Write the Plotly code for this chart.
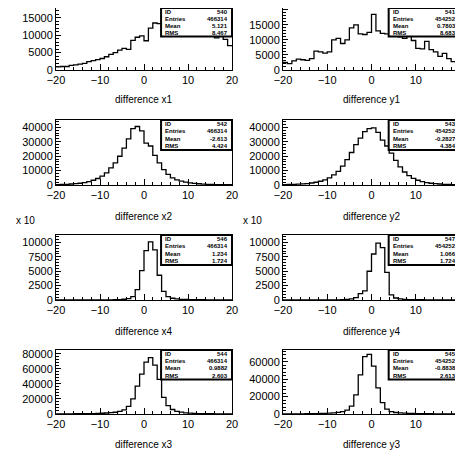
import plotly.graph_objects as go

W, H = 463, 464
OFF = 8  # page body margin
FW, FH = W - OFF, H - OFF

bin_edges = list(range(-20, 21))

x1_vals = [900, 1000, 1000, 1300, 1500, 1700, 1900, 2400, 2700, 3000,
           3300, 3800, 4500, 5000, 5700, 6200, 5900, 8500, 9400, 9800,
           8400, 12000, 13500, 13300, 10400, 16000, 15000, 14500, 13000, 14800,
           14600, 10300, 12600, 12000, 11500, 10800, 9200, 9800, 8800, 7000]
y1_vals = [2500, 2100, 3000, 3600, 3400, 3200, 3800, 6300, 6000, 5600,
           6000, 10000, 10500, 8800, 10000, 14000, 15000, 12000, 11800, 12500,
           18500, 13000, 12200, 12000, 16000, 12000, 11000, 10500, 14500, 9800,
           7200, 7000, 9500, 6800, 6000, 4500, 5500, 3800, 2800, 2100]
x2_vals = [300, 400, 500, 700, 900, 1200, 1700, 2300, 3300, 4500,
           6200, 8400, 11900, 15300, 19900, 25500, 32000, 39000, 40500, 37500,
           29000, 27000, 20500, 15300, 10700, 7300, 5000, 3600, 2700, 2000,
           1500, 1100, 850, 650, 500, 400, 320, 260, 210, 170]
y2_vals = [300, 350, 450, 600, 800, 1000, 1400, 1900, 2600, 3600,
           5000, 7000, 9500, 13000, 17500, 22500, 28000, 32500, 37000, 39000,
           39500, 36500, 31000, 27000, 22000, 17000, 12500, 9000, 6500, 4600,
           3300, 2400, 1700, 1200, 900, 700, 500, 400, 300, 250]
x4_vals = [5, 5, 5, 5, 5, 5, 8, 10, 12, 15,
           20, 25, 35, 50, 80, 130, 250, 600, 1800, 5100,
           8600, 10100, 8700, 4300, 1500, 600, 300, 180, 120, 90,
           70, 60, 50, 40, 35, 30, 25, 20, 15, 12]
y4_vals = [5, 5, 5, 5, 5, 6, 8, 10, 12, 15,
           20, 25, 35, 50, 90, 180, 400, 1100, 1600, 5000,
           8000, 9900, 9100, 4800, 900, 350, 180, 110, 80, 60,
           50, 40, 35, 30, 25, 20, 18, 15, 12, 10]
x3_vals = [200, 200, 250, 250, 300, 350, 400, 500, 600, 800,
           1000, 1300, 1700, 2300, 3500, 5500, 10000, 20000, 37000, 53000,
           69000, 75000, 65000, 46000, 22000, 11000, 6000, 3600, 2400, 1600,
           1100, 800, 600, 450, 350, 300, 250, 200, 180, 150]
y3_vals = [150, 150, 200, 200, 250, 300, 350, 450, 550, 700,
           900, 1200, 1800, 2800, 4500, 9000, 22000, 45000, 66000, 68500,
           55000, 30000, 13000, 5500, 2800, 1700, 1200, 900, 700, 550,
           450, 380, 320, 270, 230, 200, 170, 150, 130, 110]

titles = ["difference x1", "difference y1", "difference x2", "difference y2",
          "difference x4", "difference y4", "difference x3", "difference y3"]
hist_ids = ["540", "541", "542", "543", "546", "547", "544", "545"]
entries = ["466314", "454252", "466314", "454252", "466314", "454252", "466314", "454252"]
means = ["5.121", "0.7803", "-2.613", "-0.2827", "1.234", "1.066", "0.9882", "-0.8838"]
rmss = ["8.467", "8.683", "4.424", "4.384", "1.724", "1.724", "2.603", "2.613"]
all_vals = [x1_vals, y1_vals, x2_vals, y2_vals, x4_vals, y4_vals, x3_vals, y3_vals]
y_max = [17800, 20600, 45000, 45000, 11300, 11300, 85000, 73500]
y_dtick = [5000, 5000, 10000, 10000, 2500, 2500, 20000, 20000]

col_px = [(56, 232), (283, 460)]
row_px = [(5, 70), (120, 185), (235, 300), (350, 414)]


def px_x(p):
    return (p - OFF) / FW


def px_y(p):
    return 1 - (p - OFF) / FH


fig = go.Figure()
layout = dict(width=FW, height=FH, margin=dict(l=0, r=0, t=0, b=0, autoexpand=False),
              paper_bgcolor="white", plot_bgcolor="white", showlegend=False)
annotations = []
shapes = []
font_fam = "Liberation Sans, Arial, sans-serif"

for i in range(8):
    r, c = divmod(i, 2)
    n = i + 1
    xa = "x" if n == 1 else f"x{n}"
    ya = "y" if n == 1 else f"y{n}"
    vals = all_vals[i]
    fig.add_trace(go.Scatter(x=bin_edges, y=vals + [vals[-1]], mode="lines",
                             line=dict(color="black", width=1.3, shape="hv"),
                             xaxis=xa, yaxis=ya, hoverinfo="skip", cliponaxis=False))
    x0, x1p = col_px[c]
    t0, b0 = row_px[r]
    axcommon = dict(showgrid=False, zeroline=False, showline=True, linecolor="black",
                    linewidth=1, mirror=True, ticks="inside", tickcolor="black",
                    automargin=False,
                    tickfont=dict(family=font_fam, size=11, color="black"))
    layout["xaxis" if n == 1 else f"xaxis{n}"] = dict(
        domain=[max(0, px_x(x0)), min(1, px_x(x1p))], anchor=ya, range=[-20, 20],
        dtick=10, tick0=0, ticklen=6,
        minor=dict(dtick=2, ticks="inside", ticklen=3, tickcolor="black"),
        **axcommon)
    layout["yaxis" if n == 1 else f"yaxis{n}"] = dict(
        domain=[px_y(b0), min(1, px_y(t0))], anchor=xa, range=[0, y_max[i]],
        dtick=y_dtick[i], tick0=0, tickformat="d", ticklen=5,
        minor=dict(dtick=y_dtick[i] / 5, ticks="inside", ticklen=3, tickcolor="black"),
        **axcommon)
    xd = f"{xa} domain"
    yd = f"{ya} domain"
    annotations.append(dict(text=titles[i], xref=xd, yref=yd, x=0.5, y=-0.48,
                            showarrow=False, xanchor="center", yanchor="middle",
                            font=dict(family=font_fam, size=10, color="black")))
    # stats box
    bx0, by0 = 0.597, 0.54
    shapes.append(dict(type="rect", xref=xd, yref=yd, x0=bx0, x1=1, y0=by0, y1=1,
                       line=dict(color="black", width=2), fillcolor="white", layer="above"))
    labels = ["ID", "Entries", "Mean", "RMS"]
    values = [hist_ids[i], entries[i], means[i], rmss[i]]
    for k in range(4):
        yy = 1 - (1 - by0) * (k + 0.5) / 4
        annotations.append(dict(text="<b>" + labels[k] + "</b>", xref=xd, yref=yd,
                                x=bx0 + 0.012, y=yy, showarrow=False, xanchor="left",
                                yanchor="middle",
                                font=dict(family=font_fam, size=6, color="black")))
        annotations.append(dict(text="<b>" + values[k] + "</b>", xref=xd, yref=yd,
                                x=0.99, y=yy, showarrow=False, xanchor="right",
                                yanchor="middle",
                                font=dict(family=font_fam, size=6, color="black")))

for xp in (25, 252):
    annotations.append(dict(text="x 10", xref="paper", yref="paper", x=px_x(xp),
                            y=px_y(221), showarrow=False, xanchor="center",
                            yanchor="middle",
                            font=dict(family=font_fam, size=10, color="black")))

layout["annotations"] = annotations
layout["shapes"] = shapes
fig.update_layout(**layout)
fig.write_html("out.html")
